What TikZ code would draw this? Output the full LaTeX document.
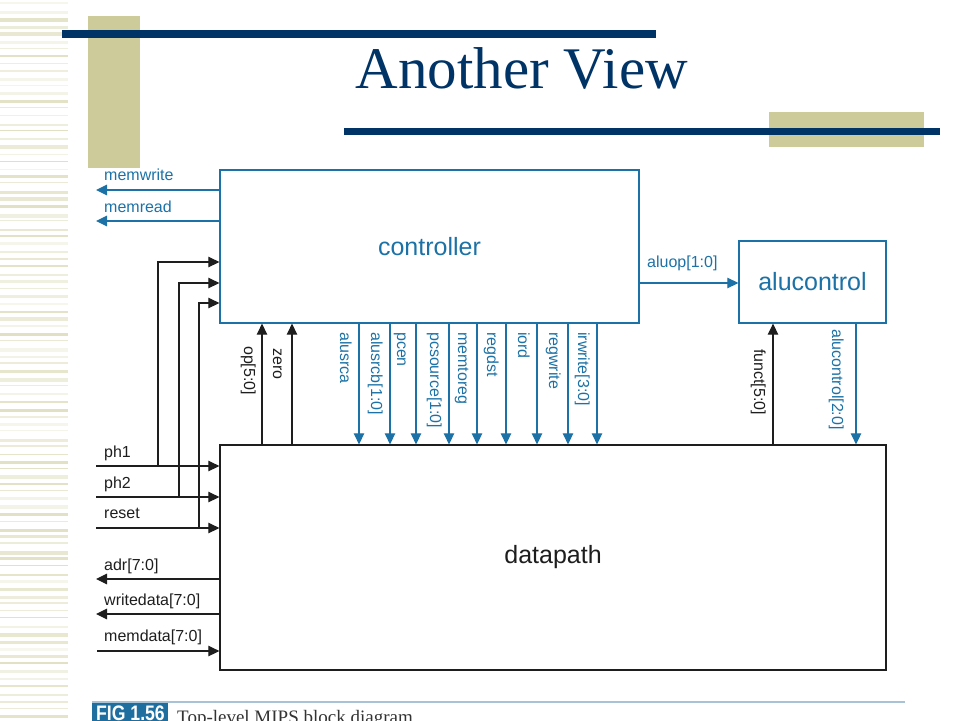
\documentclass[tikz,border=0pt]{standalone}
\usepackage{fontspec}
\setmainfont{Liberation Sans}
\newfontfamily\titlefont{Liberation Serif}
\usetikzlibrary{positioning, calc, arrows.meta}

\begin{document}
\begin{tikzpicture}[
  x=1pt, y=-1pt,
  font=\fontsize{16}{18}\selectfont,
  >={Triangle[length=11pt,width=10.5pt]},
  blkbox/.style={draw=#1, line width=1.3pt, fill=white, inner sep=0pt,
                 font=\fontsize{25}{28}\selectfont},
  sigBlk/.style={draw=cInk, line width=1.2pt},
  sigBlu/.style={draw=cBlue, line width=1.2pt},
  lblBlk/.style={text=cInk, inner sep=0pt, anchor=base west},
  lblBlu/.style={text=cBlue, inner sep=0pt, anchor=base west},
]
\definecolor{cInk}{HTML}{1E1E1E}     % black wires
\definecolor{cBlue}{HTML}{1C72A6}    % control wires
\definecolor{cNavy}{HTML}{003366}    % title and bars
\definecolor{cKhaki}{HTML}{CCCB99}   % slide blocks
\definecolor{cFig}{HTML}{1E6FA0}     % figure tag
\definecolor{cCapLine}{HTML}{A9C3D6}

\useasboundingbox (0,0) rectangle (960,720);
\clip (0,0) rectangle (960,720);

% ---------- slide decoration ----------
\pgfmathsetseed{42}
\foreach \i in {0,...,95} {
  \pgfmathsetmacro{\yy}{\i*7.5+2+2*rnd}
  \pgfmathsetmacro{\ww}{0.8+3*rnd}
  \pgfmathsetmacro{\oo}{0.15+0.45*rnd}
  \fill[cKhaki, opacity=\oo] (0,\yy) rectangle (68,\yy+\ww);
}
\fill[cKhaki] (88,16) rectangle (140,168);
\fill[cNavy] (62,30) rectangle (656,38);
\fill[cKhaki] (769,112) rectangle (924,147);
\fill[cNavy] (344,128) rectangle (940,135);

\node[font=\titlefont\fontsize{59}{62}\selectfont, text=cNavy,
      inner sep=0pt, anchor=base] (title) at (522,88) {Another View};

% ---------- blocks ----------
\node[blkbox=cBlue, text=cBlue, minimum width=419pt, minimum height=153pt]
  (ctrl) at (429.5,246.5) {controller};
\node[blkbox=cBlue, text=cBlue, minimum width=147pt, minimum height=82pt]
  (aluctl) at (812.5,282) {alucontrol};
\node[blkbox=cInk, text=cInk, minimum width=666pt, minimum height=225pt]
  (dpath) at (553,557.5) {datapath};

% ---------- memory control outputs ----------
\coordinate (mwOut) at (96,190);
\coordinate (mrOut) at (96,221);
\draw[sigBlu, ->] (ctrl.west |- mwOut) -- (mwOut);
\draw[sigBlu, ->] (ctrl.west |- mrOut) -- (mrOut);
\node[lblBlu] (mwLbl) at (104,180.5) {memwrite};
\node[lblBlu] (mrLbl) at (104,212) {memread};

% ---------- clocks and reset ----------
\coordinate (ph1In) at (96,466);
\coordinate (ph2In) at (96,497);
\coordinate (rstIn) at (96,528);
\coordinate (ph1Tap) at (158,466);
\coordinate (ph2Tap) at (179,497);
\coordinate (rstTap) at (199,528);
\draw[sigBlk, ->] (ph1In) -- (dpath.west |- ph1In);
\draw[sigBlk, ->] (ph2In) -- (dpath.west |- ph2In);
\draw[sigBlk, ->] (rstIn) -- (dpath.west |- rstIn);
\draw[sigBlk, ->] (ph1Tap) |- (ctrl.west |- 0,262);
\draw[sigBlk, ->] (ph2Tap) |- (ctrl.west |- 0,283);
\draw[sigBlk, ->] (rstTap) |- (ctrl.west |- 0,303);
\node[lblBlk] (ph1Lbl) at (104,457) {ph1};
\node[lblBlk] (ph2Lbl) at (104,488) {ph2};
\node[lblBlk] (rstLbl) at (104,518) {reset};

% ---------- memory buses ----------
\coordinate (adrOut) at (96,579);
\coordinate (wdOut) at (96,614);
\coordinate (mdIn) at (97,651);
\draw[sigBlk, ->] (dpath.west |- adrOut) -- (adrOut);
\draw[sigBlk, ->] (dpath.west |- wdOut) -- (wdOut);
\draw[sigBlk, ->] (mdIn) -- (dpath.west |- mdIn);
\node[lblBlk] (adrLbl) at (104,570) {adr[7:0]};
\node[lblBlk] (wdLbl) at (104,605.5) {writedata[7:0]};
\node[lblBlk] (mdLbl) at (104,641) {memdata[7:0]};

% ---------- status to controller ----------
\draw[sigBlk, ->] (dpath.north -| 262,0) -- (ctrl.south -| 262,0);
\draw[sigBlk, ->] (dpath.north -| 292,0) -- (ctrl.south -| 292,0);
\node[lblBlk, rotate=-90] (opLbl) at (244,346) {op[5:0]};
\node[lblBlk, rotate=-90] (zeroLbl) at (273,348) {zero};

% ---------- controller to datapath ----------
\foreach \xx/\sig in {359/alusrca, 390/{alusrcb[1:0]}, 416/pcen,
                      449/{pcsource[1:0]}, 477/memtoreg, 506/regdst,
                      537/iord, 568/regwrite, 597/{irwrite[3:0]}} {
  \draw[sigBlu, ->] (ctrl.south -| \xx,0) -- (dpath.north -| \xx,0);
  \node[lblBlu, rotate=-90] at (\xx-19,332) {\sig};
}

% ---------- alu control ----------
\draw[sigBlu, ->] (ctrl.east |- 0,283) -- (aluctl.west |- 0,283);
\node[lblBlu] (aluopLbl) at (647,267) {aluop[1:0]};
\draw[sigBlk, ->] (dpath.north -| 773,0) -- (aluctl.south -| 773,0);
\node[lblBlk, rotate=-90] (functLbl) at (754,349) {funct[5:0]};
\draw[sigBlu, ->] (aluctl.south -| 856,0) -- (dpath.north -| 856,0);
\node[lblBlu, rotate=-90] (acLbl) at (832,329) {alucontrol[2:0]};

% ---------- caption ----------
\draw[cCapLine, line width=1.2pt] (92,702) -- (905,702);
\fill[cFig] (92,703) rectangle (168,730);
\node[text=white, inner sep=0pt, anchor=base west, xscale=0.84,
      font=\bfseries\fontsize{21}{22}\selectfont] (figTag) at (96,720) {FIG 1.56};
\node[text=black!80, inner sep=0pt, anchor=base west,
      font=\titlefont\fontsize{19}{20}\selectfont] (capTxt) at (177,723.5)
  {Top-level MIPS block diagram};

\end{tikzpicture}
\end{document}
